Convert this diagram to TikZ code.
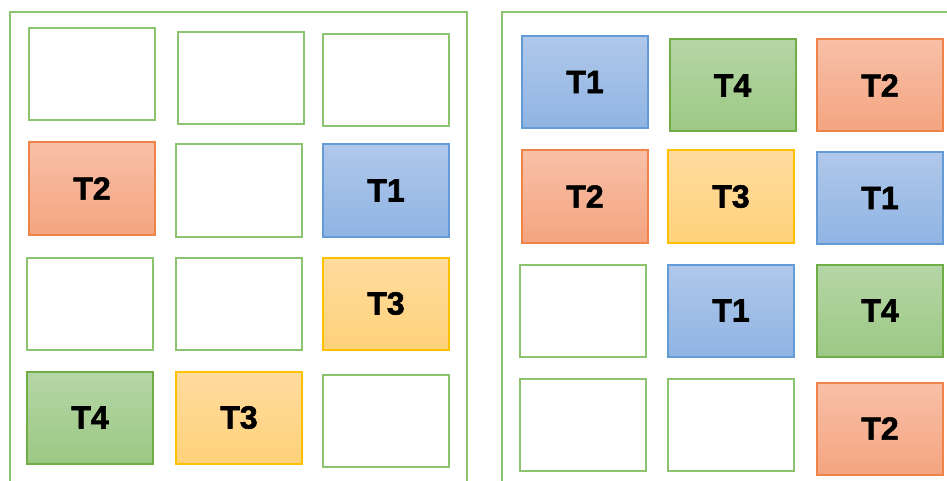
\documentclass[tikz,border=0pt]{standalone}
\usepackage{fontspec}
\setmainfont{Liberation Sans}
\newfontfamily\heavyfont[BoldFeatures={FakeBold=1.8}]{Liberation Sans}
\usetikzlibrary{positioning}
\definecolor{tonetop}{RGB}{176,200,234}
\definecolor{tonebot}{RGB}{143,180,227}
\definecolor{toneline}{RGB}{100,155,215}
\definecolor{ttwotop}{RGB}{248,192,168}
\definecolor{ttwobot}{RGB}{244,164,128}
\definecolor{ttwoline}{RGB}{240,132,72}
\definecolor{tthreetop}{RGB}{255,219,158}
\definecolor{tthreebot}{RGB}{255,210,122}
\definecolor{tthreeline}{RGB}{255,192,0}
\definecolor{tfourtop}{RGB}{182,214,166}
\definecolor{tfourbot}{RGB}{156,200,132}
\definecolor{tfourline}{RGB}{112,173,71}
\definecolor{slotgreen}{RGB}{140,195,110}

\begin{document}
\begin{tikzpicture}[
  x=1pt, y=-1pt,
  slot/.style = {
    rectangle, draw=slotgreen, line width=2pt, fill=white,
    minimum width=126pt, minimum height=92pt, inner sep=0pt,
    font=\heavyfont\fontsize{32}{36}\selectfont\bfseries
  },
  tone/.style   = {slot, draw=toneline, top color=tonetop, bottom color=tonebot},
  ttwo/.style   = {slot, draw=ttwoline, top color=ttwotop, bottom color=ttwobot},
  tthree/.style = {slot, draw=tthreeline, top color=tthreetop, bottom color=tthreebot},
  tfour/.style  = {slot, draw=tfourline, top color=tfourtop, bottom color=tfourbot},
  frame/.style  = {draw=slotgreen, line width=2pt}
]
\clip (0,0) rectangle (947,481);
\fill[white] (0,0) rectangle (947,481);
% panels
\draw[frame] (10,500) -- (10,12) -- (467,12) -- (467,500);
\draw[frame] (502,500) -- (502,12) -- (960,12);

% left grid
\node[slot]   (l11) at (91.5,74)   {};
\node[slot]   (l12) at (241,78.5)  {};
\node[slot]   (l13) at (386,80.5)  {};
\node[ttwo]   (l21) at (92,188.5)  {T2};
\node[slot]   (l22) at (239,190.5) {};
\node[tone]   (l23) at (386,190.5) {T1};
\node[slot]   (l31) at (90,303.5)  {};
\node[slot]   (l32) at (239,303.5) {};
\node[tthree] (l33) at (386,303.5) {T3};
\node[tfour]  (l41) at (90,417.5)  {T4};
\node[tthree] (l42) at (239,417.5) {T3};
\node[slot]   (l43) at (386,420.5) {};

% right grid
\node[tone]   (r11) at (585,82)    {T1};
\node[tfour]  (r12) at (732.5,85.5){T4};
\node[ttwo]   (r13) at (880,85.5)  {T2};
\node[ttwo]   (r21) at (585,196.5) {T2};
\node[tthree] (r22) at (731,196.5) {T3};
\node[tone]   (r23) at (880,198)   {T1};
\node[slot]   (r31) at (583,310.5) {};
\node[tone]   (r32) at (731,310.5) {T1};
\node[tfour]  (r33) at (880,310.5) {T4};
\node[slot]   (r41) at (583,424.5) {};
\node[slot]   (r42) at (731,424.5) {};
\node[ttwo]   (r43) at (880,428.5) {T2};
\end{tikzpicture}
\end{document}
